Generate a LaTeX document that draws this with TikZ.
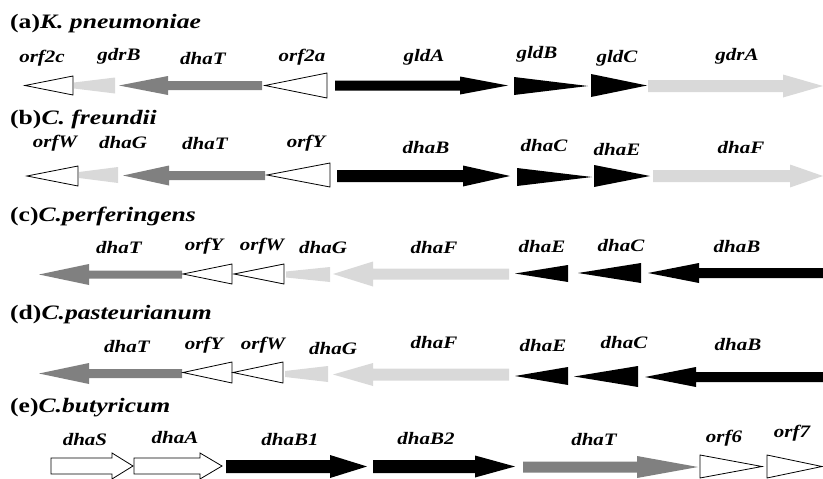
\documentclass[tikz,border=0pt]{standalone}
\usepackage{fontspec}
\usepackage{graphicx}
\setmainfont{Liberation Serif}
\definecolor{lg}{HTML}{D9D9D9}
\definecolor{dg}{HTML}{808080}

% gene arrow: style, tail x, head-base x, tip x, centre y, shaft half-height, head half-height
\newcommand{\genearrow}[7]{%
  \path[#1] (#2,#5-#6) -- (#3,#5-#6) -- (#3,#5-#7) -- (#4,#5)
    -- (#3,#5+#7) -- (#3,#5+#6) -- (#2,#5+#6) -- cycle;}
% gene triangle: style, base x, tip x, centre y, half-height
\newcommand{\genetri}[5]{%
  \path[#1] (#2,#4-#5) -- (#3,#4) -- (#2,#4+#5) -- cycle;}
% blunt light wedge: style, wide x, narrow x, centre y, wide half, narrow half
\newcommand{\genewedge}[6]{%
  \path[#1] (#2,#4-#5) -- (#3,#4-#6) -- (#3,#4+#6) -- (#2,#4+#5) -- cycle;}
% gene name: node name, x, baseline y, text
\newcommand{\genelabel}[4]{%
  \node[lbl] (#1) at (#2,#3) {\scalebox{1.2}[1]{#4}};}
% row title: node name, baseline y, letter, species
\newcommand{\rowtitle}[4]{%
  \node[ttl] (#1) at (10,#2) {\scalebox{1.25}[1]{\textbf{(#3)}\textbf{\textit{#4}}}};}

\begin{document}
\begin{tikzpicture}[x=1pt,y=-1pt,
  wht/.style={draw=black,fill=white,line width=0.8pt,line join=miter},
  lgr/.style={fill=lg},
  dgr/.style={fill=dg},
  blk/.style={fill=black},
  lbl/.style={anchor=base,inner sep=0pt,font=\fontsize{17.5}{20}\selectfont\bfseries\itshape},
  ttl/.style={anchor=base west,inner sep=0pt,font=\fontsize{20.5}{24}\selectfont}]
\useasboundingbox (0,0) rectangle (823,479);

% (a) K. pneumoniae
\rowtitle{ta}{28}{a}{K. pneumoniae}
\genetri{wht}{73}{25}{85.5}{9.5}
\genewedge{lgr}{115}{74}{85.5}{8}{3}
\genearrow{dgr}{262}{168}{119}{85.5}{4.5}{9.5}
\genetri{wht}{327}{265}{85.5}{12.5}
\genearrow{blk}{335}{460}{508}{85.5}{5}{9}
\genetri{blk}{514}{588}{86}{9}
\genetri{blk}{591}{647}{85.5}{11.5}
\genearrow{lgr}{648}{783}{823}{86}{6}{11.5}
\genelabel{a1}{42}{62}{orf2c}
\genelabel{a2}{119}{60}{gdrB}
\genelabel{a3}{203}{64}{dhaT}
\genelabel{a4}{302}{61}{orf2a}
\genelabel{a5}{424}{61}{gldA}
\genelabel{a6}{537}{58}{gldB}
\genelabel{a7}{617}{62}{gldC}
\genelabel{a8}{737}{60}{gdrA}

% (b) C. freundii
\rowtitle{tb}{124}{b}{C. freundii}
\genetri{wht}{78}{27}{176}{10}
\genewedge{lgr}{118}{79}{175}{8}{3}
\genearrow{dgr}{265}{169}{123}{175.5}{4.5}{10}
\genetri{wht}{330}{267}{175}{12}
\genearrow{blk}{337}{463}{510}{176}{6}{10.5}
\genetri{blk}{517}{592}{177}{9}
\genetri{blk}{594}{650}{176}{11}
\genearrow{lgr}{653}{790}{823}{176}{6}{11.5}
\genelabel{b1}{55}{147}{orfW}
\genelabel{b2}{123}{148}{dhaG}
\genelabel{b3}{205}{149}{dhaT}
\genelabel{b4}{306}{147}{orfY}
\genelabel{b5}{426}{153}{dhaB}
\genelabel{b6}{544}{151}{dhaC}
\genelabel{b7}{617}{155}{dhaE}
\genelabel{b8}{741}{153}{dhaF}

% (c) C. perferingens
\rowtitle{tc}{221}{c}{C.perferingens}
\genearrow{dgr}{182}{89}{39}{274.5}{4}{10.5}
\genetri{wht}{232}{183}{274}{10}
\genetri{wht}{284}{234}{274}{10}
\genewedge{lgr}{330}{286}{274.5}{7.5}{3}
\genearrow{lgr}{509}{373}{333}{274}{5.5}{12.5}
\genetri{blk}{568}{515}{273.5}{8.5}
\genetri{blk}{641}{578}{273}{10}
\genearrow{blk}{823}{699}{648}{273}{5}{10}
\genelabel{c1}{119}{253}{dhaT}
\genelabel{c2}{204}{250}{orfY}
\genelabel{c3}{262}{250}{orfW}
\genelabel{c4}{323}{253}{dhaG}
\genelabel{c5}{434}{253}{dhaF}
\genelabel{c6}{542}{252}{dhaE}
\genelabel{c7}{621}{251}{dhaC}
\genelabel{c8}{737}{252}{dhaB}

% (d) C. pasteurianum
\rowtitle{td}{319}{d}{C.pasteurianum}
\genearrow{dgr}{182}{89}{39}{373.5}{4.5}{10.5}
\genetri{wht}{232}{183}{372.5}{10.5}
\genetri{wht}{283}{233}{372.5}{10.5}
\genewedge{lgr}{328}{285}{374}{8}{3}
\genearrow{lgr}{509}{373}{333}{374.5}{6}{11.5}
\genetri{blk}{568}{515}{376}{9}
\genetri{blk}{638}{574}{376.5}{10.5}
\genearrow{blk}{823}{696}{645}{377}{5}{10}
\genelabel{d1}{127}{352}{dhaT}
\genelabel{d2}{204}{349}{orfY}
\genelabel{d3}{263}{349}{orfW}
\genelabel{d4}{333}{354}{dhaG}
\genelabel{d5}{434}{348}{dhaF}
\genelabel{d6}{543}{351}{dhaE}
\genelabel{d7}{624}{348}{dhaC}
\genelabel{d8}{738}{350}{dhaB}

% (e) C. butyricum
\rowtitle{te}{412}{e}{C.butyricum}
\genearrow{wht}{51}{112}{133}{466}{8}{13}
\genearrow{wht}{134}{200}{222}{466}{8}{13}
\genearrow{blk}{226}{330}{367}{466.5}{6.5}{11.5}
\genearrow{blk}{373}{475}{515}{466.5}{6.5}{11}
\genearrow{dgr}{523}{637}{698}{467}{5.5}{11}
\genetri{wht}{700}{762}{466.5}{11.5}
\genetri{wht}{767}{822}{466.5}{11.5}
\genelabel{e1}{85}{445}{dhaS}
\genelabel{e2}{175}{443}{dhaA}
\genelabel{e3}{290}{445}{dhaB1}
\genelabel{e4}{426}{444}{dhaB2}
\genelabel{e5}{594}{445}{dhaT}
\genelabel{e6}{724}{442}{orf6}
\genelabel{e7}{792}{437}{orf7}
\end{tikzpicture}
\end{document}
